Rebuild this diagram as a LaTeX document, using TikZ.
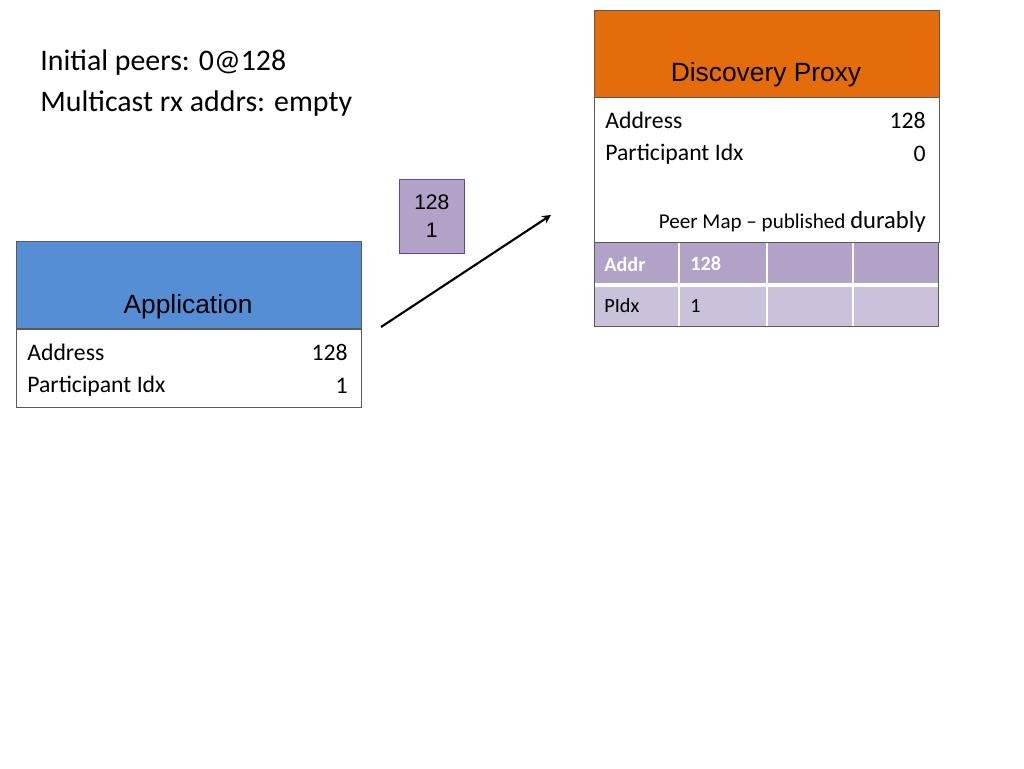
\documentclass[tikz,border=0pt]{standalone}
\usepackage{fontspec}
\setmainfont{Carlito}
\newfontfamily\arialf{Liberation Sans}
\usetikzlibrary{arrows, positioning}
\definecolor{proxyorange}{HTML}{E46C0A}
\definecolor{appblue}{HTML}{558ED5}
\definecolor{mapdark}{HTML}{B3A2C7}
\definecolor{maplight}{HTML}{CCC1DA}
\begin{document}
\begin{tikzpicture}[
  x=0.02cm, y=-0.02cm,
  header/.style={
    rectangle,
    draw=gray!70!black,
    fill=#1,
    anchor=north west,
    minimum width=6.9cm,
    minimum height=1.74cm,
    inner sep=0pt
  },
  body/.style={
    rectangle,
    draw=gray!70!black,
    fill=white,
    anchor=north west,
    minimum width=6.9cm,
    minimum height=#1,
    inner sep=0pt
  },
  field/.style={anchor=west, font=\fontsize{13.5}{16}\selectfont, inner sep=0pt},
  value/.style={anchor=east, font=\fontsize{13.5}{16}\selectfont, inner sep=0pt},
  celltext/.style={anchor=west, font=\fontsize{11.5}{14}\selectfont, inner sep=0pt}
]
\useasboundingbox (0,0) rectangle (1024,768);

% Header text
\node[anchor=west, align=left, font=\fontsize{17}{23}\selectfont, inner sep=0pt] (init) at (40,83)
  {Initial peers: 0@128\\Multicast rx addrs: empty};

% Discovery proxy
\node[header=proxyorange] (dpHead) at (594,10) {};
\node[font=\arialf\fontsize{15}{18}\selectfont] (dpTitle) at (766,75) {Discovery Proxy};
\node[body=2.9cm] (dpBody) at (594,97) {};
\node[field] (dpAddr) at (605,120) {Address};
\node[value] (dpAddrV) at (926,120) {128};
\node[field] (dpIdx) at (605,154) {Participant Idx};
\node[value] (dpIdxV) at (926,154) {0};
\node[anchor=east, inner sep=0pt] (dpMap) at (926,222)
  {\fontsize{12}{14}\selectfont Peer Map -- published \fontsize{14}{16}\selectfont durably};

% Peer map table
\fill[mapdark] (594,242) rectangle (938,284);
\fill[maplight] (594,286) rectangle (938,326);
\foreach \x in {679, 767, 853} {
  \draw[white, line width=1.5pt] (\x,242) -- (\x,326);
}
\draw[white, line width=2pt] (594,285) -- (938,285);
\draw[gray!70!black] (594,242) rectangle (938,326);
\node[celltext, text=white, font=\bfseries\fontsize{11.5}{14}\selectfont] (mapAddr) at (604,264) {Addr};
\node[celltext, text=white, font=\bfseries\fontsize{11.5}{14}\selectfont] (mapAddrV) at (690,264) {128};
\node[celltext] (mapIdx) at (604,306) {PIdx};
\node[celltext] (mapIdxV) at (690,306) {1};

% Message box
\node[rectangle, draw=gray!60!blue, fill=mapdark, anchor=north west, minimum width=1.3cm,
  minimum height=1.48cm, inner sep=0pt, align=center,
  font=\arialf\fontsize{12}{16}\selectfont] (msg) at (399,179) {128\\1};

% Application
\node[header=appblue] (appHead) at (16,241) {};
\node[font=\arialf\fontsize{15}{18}\selectfont] (appTitle) at (188,307) {Application};
\node[body=1.56cm] (appBody) at (16,329) {};
\node[field] (appAddr) at (27,352) {Address};
\node[value] (appAddrV) at (348,352) {128};
\node[field] (appIdx) at (27,386) {Participant Idx};
\node[value] (appIdxV) at (348,386) {1};

% Send arrow
\coordinate (sendFrom) at (381,327);
\coordinate (sendTo) at (551,215);
\draw[-stealth, line width=1.2pt] (sendFrom) -- (sendTo);
\end{tikzpicture}
\end{document}
